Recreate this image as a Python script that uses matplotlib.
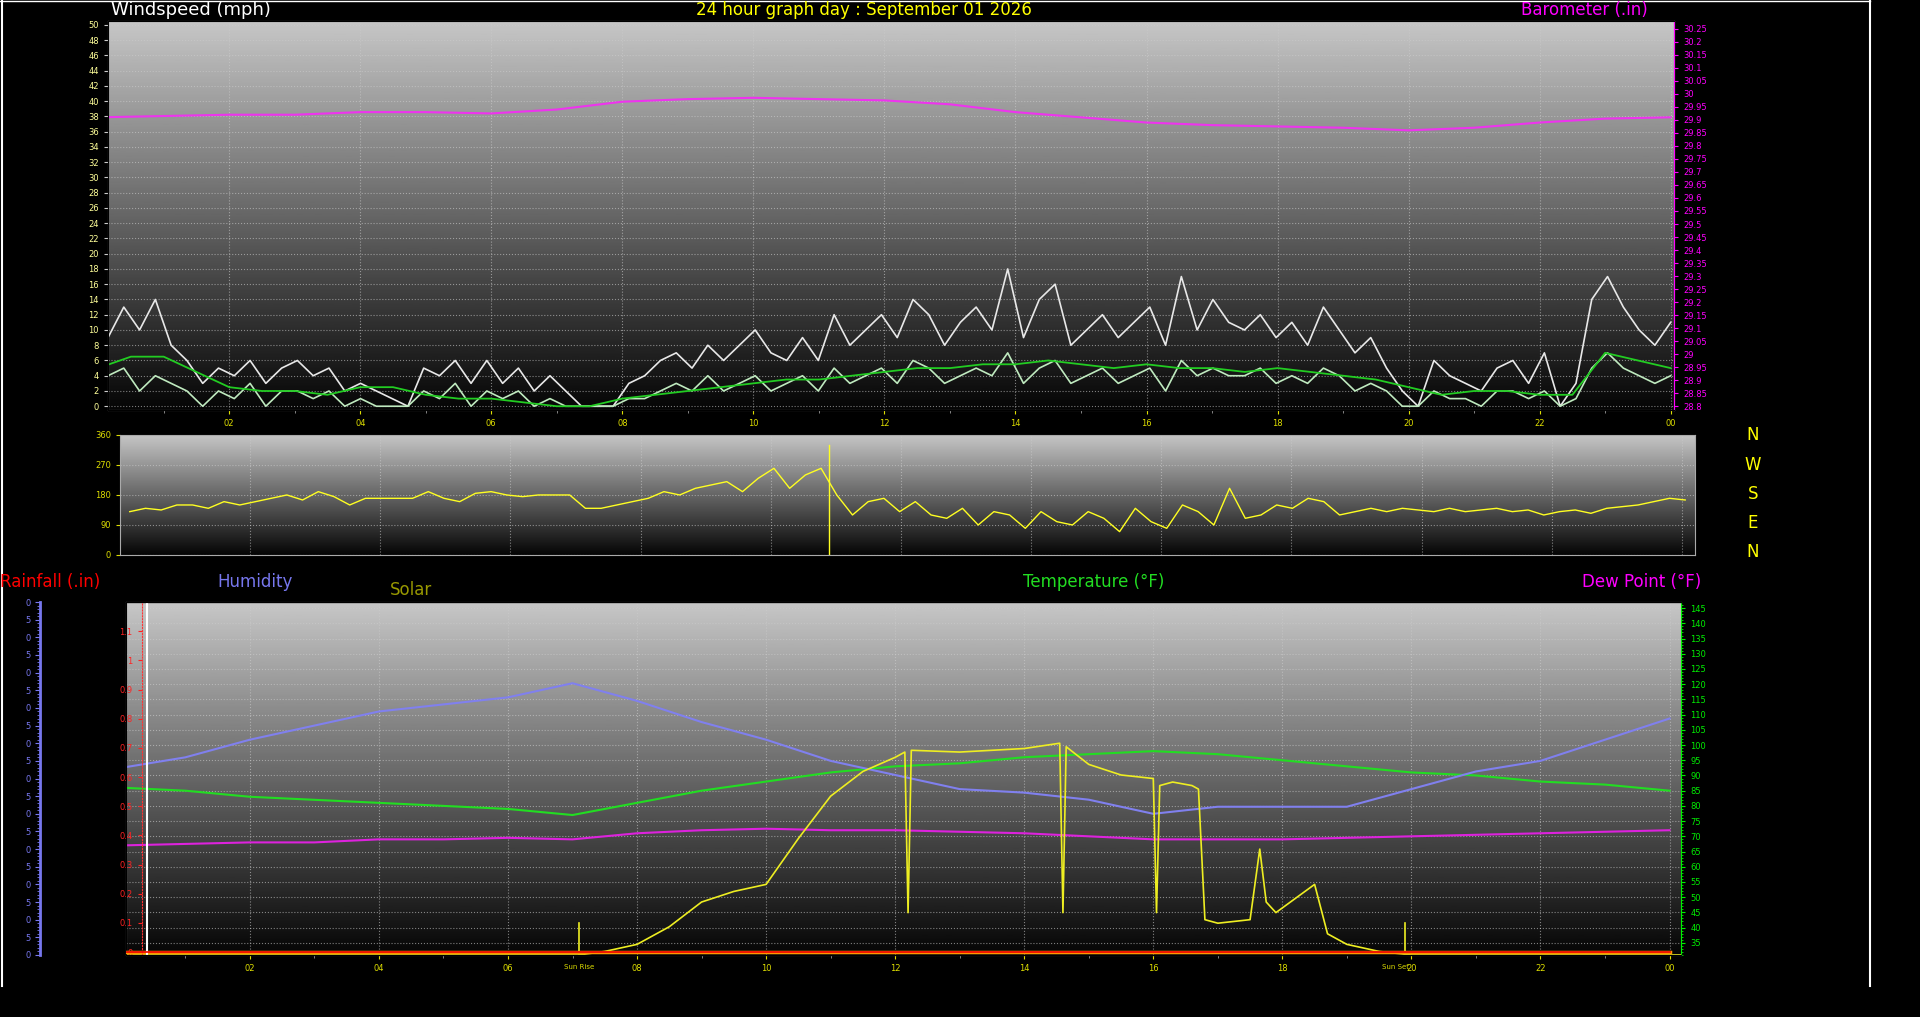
import numpy as np
import matplotlib
matplotlib.use("Agg")
import matplotlib.pyplot as plt

# ---- data ----
hours = np.arange(25)

gust = [9, 13, 10, 14, 8, 6, 3, 5, 4, 6, 3, 5, 6, 4, 5, 2,
        3, 2, 1, 0, 5, 4, 6, 3, 6, 3, 5, 2, 4, 2, 0, 0,
        0, 3, 4, 6, 7, 5, 8, 6, 8, 10, 7, 6, 9, 6, 12, 8,
        10, 12, 9, 14, 12, 8, 11, 13, 10, 18, 9, 14, 16, 8, 10, 12,
        9, 11, 13, 8, 17, 10, 14, 11, 10, 12, 9, 11, 8, 13, 10, 7,
        9, 5, 2, 0, 6, 4, 3, 2, 5, 6, 3, 7, 0, 3, 14, 17,
        13, 10, 8, 11]
avg = [4, 5, 2, 4, 3, 2, 0, 2, 1, 3, 0, 2, 2, 1, 2, 0,
       1, 0, 0, 0, 2, 1, 3, 0, 2, 1, 2, 0, 1, 0, 0, 0,
       0, 1, 1, 2, 3, 2, 4, 2, 3, 4, 2, 3, 4, 2, 5, 3,
       4, 5, 3, 6, 5, 3, 4, 5, 4, 7, 3, 5, 6, 3, 4, 5,
       3, 4, 5, 2, 6, 4, 5, 4, 4, 5, 3, 4, 3, 5, 4, 2,
       3, 2, 0, 0, 2, 1, 1, 0, 2, 2, 1, 2, 0, 1, 5, 7,
       5, 4, 3, 4]
wind_t = np.linspace(0.15, 24.0, len(gust))
smooth_t = np.arange(49) * 0.5
smooth = [5, 6.5, 6.5, 4.5, 2.5, 2, 2, 1.5, 2.5, 2.5, 1.5, 1, 1, 0.5, 0, 0,
          1, 1.5, 2, 2.5, 3, 3.5, 3.5, 4, 4.5, 5, 5, 5.5, 5.5, 6, 5.5, 5,
          5.5, 5, 5, 4.5, 5, 4.5, 4, 3.5, 2.5, 1.5, 2, 2, 1.5, 1.5, 7, 6, 5]

baro = [29.91, 29.915, 29.92, 29.92, 29.93, 29.93, 29.925, 29.94, 29.97, 29.98,
        29.985, 29.98, 29.975, 29.96, 29.93, 29.91, 29.89, 29.88, 29.875, 29.87,
        29.86, 29.87, 29.89, 29.905, 29.91]

wdir = [130, 140, 135, 150, 150, 140, 160, 150, 160, 170, 180, 165, 190, 175, 150, 170,
        170, 170, 170, 190, 170, 160, 185, 190, 180, 175, 180, 180, 180, 140, 140, 150,
        160, 170, 190, 180, 200, 210, 220, 190, 230, 260, 200, 240, 260, 180, 120, 160,
        170, 130, 160, 120, 110, 140, 90, 130, 120, 80, 130, 100, 90, 130, 110, 70,
        140, 100, 80, 150, 130, 90, 200, 110, 120, 150, 140, 170, 160, 120, 130, 140,
        130, 140, 135, 130, 140, 130, 135, 140, 130, 135, 120, 130, 135, 125, 140, 145,
        150, 160, 170, 165]
wdir_t = np.linspace(0.15, 24.05, len(wdir))

humidity = [53, 56, 61, 65, 69, 71, 73, 77, 72, 66, 61, 55, 51, 47, 46, 44, 40,
            42, 42, 42, 47, 52, 55, 61, 67]
temp = [86, 85, 83, 82, 81, 80, 79, 77, 81, 85, 88, 91, 93, 94, 96, 97, 98, 97,
        95, 93, 91, 90, 88, 87, 85]
dew = [67, 67.5, 68, 68, 69, 69, 69.5, 69, 71, 72, 72.5, 72, 72, 71.5, 71, 70,
       69, 69, 69, 69.5, 70, 70.5, 71, 71.5, 72]
solar_t = [0, 7.1, 7.5, 8, 8.5, 9, 9.5, 10, 10.5, 11, 11.5, 12, 12.15, 12.2, 12.25,
           13, 14, 14.55, 14.6, 14.65, 15, 15.5, 16, 16.05, 16.1, 16.3, 16.6,
           16.7, 16.8, 17, 17.5, 17.65, 17.75, 17.9, 18.5, 18.7, 19, 19.5, 20, 24.2]
solar = [0, 0, 10, 30, 80, 150, 180, 200, 330, 450, 520, 560, 575, 120, 580,
         575, 585, 600, 120, 590, 540, 510, 500, 120, 480, 490, 480, 470, 100,
         90, 100, 300, 150, 120, 200, 60, 30, 10, 0, 0]
rain = [0] * 25

bg = "black"
fig = plt.figure(figsize=(19.2, 10.17), dpi=100, facecolor=bg)
grad = np.linspace(0.78, 0.02, 256).reshape(-1, 1)


def panel(rect, xlim):
    ax = fig.add_axes(rect)
    ax.set_facecolor("black")
    ax.imshow(grad, extent=[0, 1, 0, 1], transform=ax.transAxes, aspect="auto",
              cmap="gray", vmin=0, vmax=1, zorder=0)
    ax.set_xlim(*xlim)
    ax.set_xticks(range(2, 25, 2))
    ax.set_xticklabels(["%02d" % (h % 24) for h in range(2, 25, 2)])
    ax.set_xticks(np.arange(1, 25, 1), minor=True)
    ax.tick_params(axis="x", colors="#dddd00", labelsize=6, length=3)
    ax.tick_params(axis="x", which="minor", colors="#999999", length=2)
    ax.grid(True, color="#cccccc", linestyle=":", linewidth=0.8, alpha=0.6)
    for s in ax.spines.values():
        s.set_color("#aaaaaa")
    return ax


# ---- top: wind speed + barometer ----
ax1 = panel([0.05625, 0.5968, 0.8156, 0.3825], (0.15, 24.05))
ax1.set_ylim(-0.5, 50.5)
ax1.set_yticks(range(0, 51, 2))
ax1.set_yticks(np.arange(0, 50.5, 0.5), minor=True)
ax1.tick_params(axis="y", colors="#cccccc", labelsize=6, length=3)
ax1.tick_params(axis="y", which="minor", length=1.5)
for lab in ax1.get_yticklabels():
    lab.set_color("#ffff99")
ax1.plot(wind_t, gust, color="#e8e8e8", lw=1.2, zorder=3)
ax1.plot(wind_t, avg, color="#bfeabf", lw=1.2, zorder=3)
ax1.plot(smooth_t, smooth, color="#22cc22", lw=1.3, zorder=4)
ax1b = ax1.twinx()
ax1b.set_ylim(28.785, 30.28)
ax1b.set_yticks(np.round(np.arange(28.8, 30.26, 0.05), 2))
ax1b.set_yticklabels([("%g" % v) for v in np.round(np.arange(28.8, 30.26, 0.05), 2)])
ax1b.tick_params(axis="y", colors="#ff00ff", labelsize=6, length=3)
ax1b.spines["right"].set_color("#ff00ff")
ax1b.plot(hours, baro, color="#ee33ee", lw=1.5)
fig.text(0.058, 0.99, "Windspeed (mph)", color="white", fontsize=13, va="center")
fig.text(0.45, 0.99, "24 hour graph day : September 01 2026", color="yellow",
         fontsize=12, ha="center", va="center")
fig.text(0.858, 0.99, "Barometer (.in)", color="#ff00ff", fontsize=12,
         ha="right", va="center")

# ---- middle: wind direction ----
ax2 = panel([0.0625, 0.4543, 0.8203, 0.118], (0.0, 24.2))
ax2.set_ylim(0, 360)
ax2.set_yticks([0, 90, 180, 270, 360])
ax2.set_yticks(range(0, 361, 18), minor=True)
ax2.set_xticklabels([])
ax2.tick_params(axis="x", length=0, which="both")
ax2.tick_params(axis="y", colors="#dddd00", labelsize=6, length=3)
ax2.plot(wdir_t, wdir, color="#ffff22", lw=1.0)
ax2.plot([10.9, 10.9], [0, 330], color="#ffff22", lw=1.0)
for i, c in enumerate("NWSEN"):
    fig.text(0.913, 0.572 - i * 0.0288, c, color="yellow", fontsize=12,
             ha="center", va="center")

# ---- bottom: temperature, humidity, dew point, solar, rain ----
ax3 = panel([0.0656, 0.061, 0.81, 0.347], (0.08, 24.18))
ax3.set_ylim(31, 147)
ax3.set_yticks(range(35, 146, 5))
ax3.set_yticks(range(31, 147, 1), minor=True)
ax3.plot(hours, temp, color="#22dd22", lw=1.5, zorder=4)
ax3.plot(hours, dew, color="#dd22dd", lw=1.5, zorder=4)

axh = ax3.twinx()
axh.set_ylim(0, 100)
axh.yaxis.tick_left()
axh.spines["left"].set_position(("axes", -0.055))
axh.spines["left"].set_color("#7777ee")
axh.spines["left"].set_linewidth(2)
axh.spines["right"].set_visible(False)
axh.set_yticks(range(0, 101, 5))
axh.set_yticklabels([str(v)[-1] for v in range(0, 101, 5)])
axh.set_yticks(range(0, 101, 1), minor=True)
axh.tick_params(axis="y", which="both", colors="#7777ee", labelsize=6)
axh.plot(hours, humidity, color="#8080ee", lw=1.5, zorder=4)

axs = ax3.twinx()
axs.set_ylim(0, 1000)
axs.set_yticks([])
axs.spines["right"].set_visible(False)
axs.plot(solar_t, solar, color="#eeee22", lw=1.2)
axs.plot([7.1, 7.1], [0, 90], color="#eeee22", lw=1.2)
axs.plot([19.9, 19.9], [0, 90], color="#eeee22", lw=1.2)
axs.text(7.1, -25, "Sun Rise", color="#dddd00", fontsize=5, ha="center", va="top")
axs.text(19.75, -25, "Sun Set", color="#dddd00", fontsize=5, ha="center", va="top")

axr = ax3.twinx()
axr.set_ylim(-0.01, 1.2)
axr.yaxis.tick_left()
axr.spines["left"].set_position(("axes", 0.01))
axr.spines["left"].set_color("#ff3333")
axr.spines["left"].set_linestyle(":")
axr.spines["right"].set_visible(False)
axr.set_yticks(np.round(np.arange(0, 1.15, 0.1), 1))
axr.set_yticklabels(["%g" % v for v in np.round(np.arange(0, 1.15, 0.1), 1)])
axr.tick_params(axis="y", colors="#ff2222", labelsize=6, length=3)
axr.plot(hours, rain, color="#ff9900", lw=2.5, zorder=2)
axr.plot(hours, rain, color="#ee0000", lw=1.2, zorder=3)
axr.axvline(0.4, color="white", lw=1.5)

# twinx resets the host to the left side, so move temperature ticks afterwards
ax3.yaxis.tick_right()
ax3.yaxis.set_label_position("right")
ax3.tick_params(axis="y", which="both", colors="#00ee00", labelsize=6)
ax3.tick_params(axis="y", which="major", length=3)
ax3.tick_params(axis="y", which="minor", length=1.5)
ax3.spines["right"].set_color("#00ee00")

fig.text(0.0, 0.428, "Rainfall (.in)", color="red", fontsize=12, va="center")
fig.text(0.113, 0.428, "Humidity", color="#7777ee", fontsize=12, va="center")
fig.text(0.203, 0.420, "Solar", color="#999900", fontsize=12, va="center")
fig.text(0.533, 0.428, "Temperature (\u00b0F)", color="#22dd22", fontsize=12, va="center")
fig.text(0.886, 0.428, "Dew Point (\u00b0F)", color="#ff00ff", fontsize=12,
         ha="right", va="center")

# frame lines
fig.add_artist(plt.Line2D([0.001, 0.001], [0.03, 1.0], color="white", lw=1.5))
fig.add_artist(plt.Line2D([0.974, 0.974], [0.03, 1.0], color="white", lw=1.5))
fig.add_artist(plt.Line2D([0.0, 0.974], [0.999, 0.999], color="white", lw=1))

fig.savefig("out.png", dpi=100, facecolor=bg)
